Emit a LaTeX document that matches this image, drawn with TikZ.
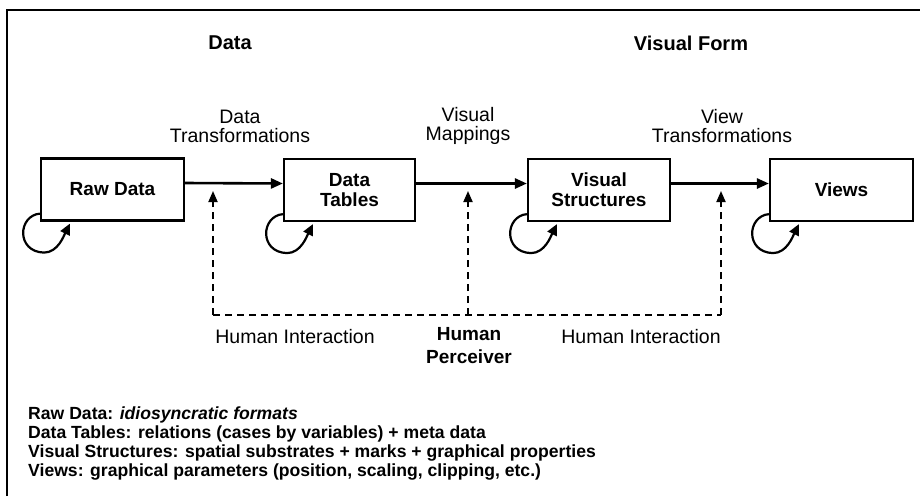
\documentclass[tikz,border=0pt]{standalone}
\usepackage{fontspec}
\setmainfont{Liberation Sans}
\usetikzlibrary{arrows.meta}

\begin{document}
\begin{tikzpicture}[x=1pt,y=-1pt,
	stagebox/.style={draw,line width=2.2pt,minimum height=62pt,inner sep=0pt,align=center,
		font=\fontsize{19}{20}\selectfont\bfseries},
	flow/.style={line width=2.6pt,-{Triangle[length=12pt,width=10pt]}},
	interact/.style={line width=1.8pt,dash pattern=on 7pt off 5pt},
	selfloop/.style={line width=2.2pt,-{Triangle[length=11pt,width=10pt]}},
	lbl/.style={font=\fontsize{19.5}{19}\selectfont,align=center,inner sep=0pt},
	heading/.style={font=\fontsize{20}{20}\selectfont\bfseries,inner sep=0pt}]
	\useasboundingbox (0,0) rectangle (920,496);
	\draw[line width=1.5pt] (7,496) -- (7,10) -- (920,10);

	% headings
	\node[heading] (hdata)   at (230,43) {Data};
	\node[heading] (hvisual) at (691,43) {Visual Form};

	% pipeline stages
	\node[stagebox,minimum width=143pt] (raw)    at (112.5,189.5) {Raw Data};
	\node[stagebox,minimum width=131pt] (tables) at (349.5,190) {Data\\Tables};
	\node[stagebox,minimum width=142pt] (vs)     at (599,190) {Visual\\Structures};
	\node[stagebox,minimum width=143pt] (views)  at (841.5,190) {Views};

	\draw[flow] ([yshift=6.5pt]raw.east) -- ([yshift=6.5pt]tables.west);
	\draw[flow] ([yshift=6.5pt]tables.east) -- ([yshift=6.5pt]vs.west);
	\draw[flow] ([yshift=6.5pt]vs.east) -- ([yshift=6.5pt]views.west);

	\node[lbl] (dtrans) at (240,126) {Data\\Transformations};
	\node[lbl] (vmap)   at (468,126) {Visual\\Mappings};
	\node[lbl] (vtrans) at (722,126) {View\\Transformations};

	% self loops
	\foreach \n in {raw,tables,vs,views}{
		\begin{scope}[shift={(\n.south west)}]
			\draw[selfloop] (0,-8) .. controls (-22,-6) and (-24,30) .. (4,31)
				.. controls (18,31) and (24,14) .. (30,2);
		\end{scope}
	}

	% human interaction
	\coordinate (dl) at (213,315);
	\coordinate (dm) at (468,315);
	\coordinate (dr) at (721,315);
	\coordinate (tl) at (213,191);
	\coordinate (tm) at (468,191);
	\coordinate (tr) at (721,191);
	\draw[interact] (dl) -- (dr);
	\draw[interact,-{Triangle[length=11pt,width=9pt]}] (dl) -- (tl);
	\draw[interact,-{Triangle[length=11pt,width=9pt]}] (dm) -- (tm);
	\draw[interact,-{Triangle[length=11pt,width=9pt]}] (dr) -- (tr);

	\node[lbl] (hil) at (295,337) {Human Interaction};
	\node[lbl] (hir) at (641,337) {Human Interaction};
	\node[lbl,font=\fontsize{19}{23}\selectfont\bfseries,anchor=north] (hp) at (469,327) {Human\\Perceiver};

	% legend
	\node[anchor=north west,align=left,inner sep=0pt,font=\fontsize{17.6}{18.8}\selectfont\bfseries] (legend) at (28,407)
		{Raw Data: \textit{idiosyncratic formats}\\
		Data Tables: relations (cases by variables) + meta data\\
		Visual Structures: spatial substrates + marks + graphical properties\\
		Views: graphical parameters (position, scaling, clipping, etc.)};
\end{tikzpicture}
\end{document}
